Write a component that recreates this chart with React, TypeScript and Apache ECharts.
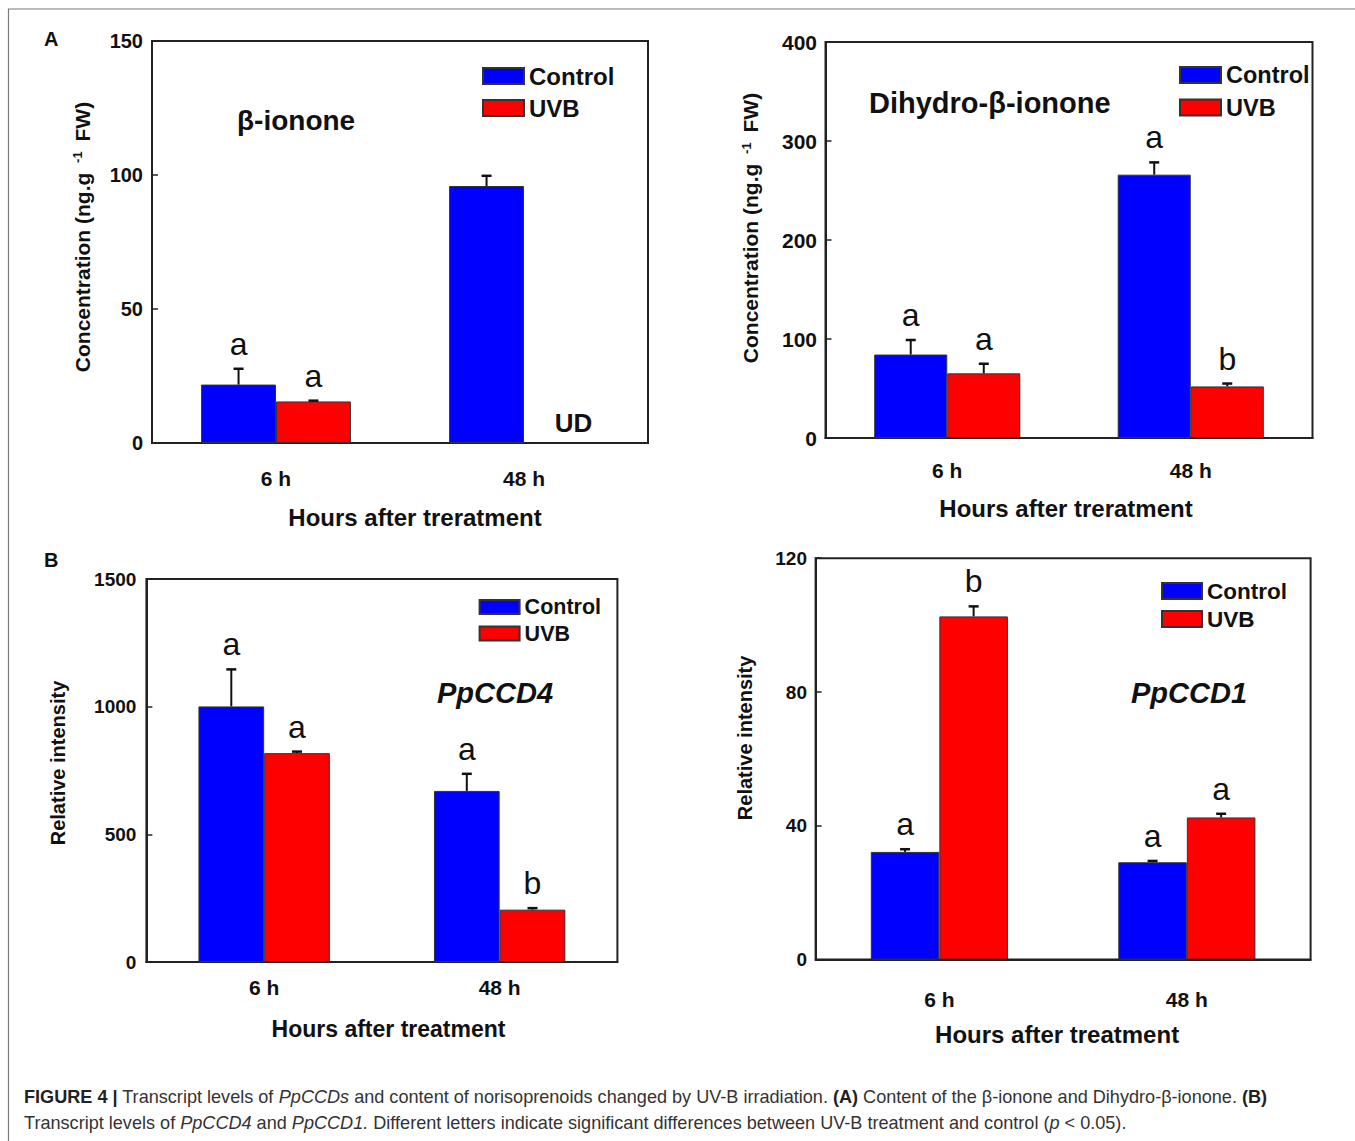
import React, { useEffect, useRef } from 'react';
import * as echarts from 'echarts';

// ---------------- data ----------------
const categories = ['6 h', '48 h'];
const seriesNames = ['Control', 'UVB'];

// Panel A (left): beta-ionone, ng/g FW
const iononeControl = [21.8, 95.9];
const iononeControlErr = [5.9, 3.8];
const iononeUVB: (number | null)[] = [15.5, null]; // 48 h UVB: UD (undetected)
const iononeUVBErr = [0.3, 0];
const iononeLetters = [['a', ''], ['a', 'UD']];

// Panel A (right): dihydro-beta-ionone, ng/g FW
const dihydroControl = [84.3, 266];
const dihydroControlErr = [14.7, 12.4];
const dihydroUVB = [65.3, 52.1];
const dihydroUVBErr = [9.7, 2.9];
const dihydroLetters = [['a', 'a'], ['a', 'b']];

// Panel B (left): PpCCD4 relative intensity
const ccd4Control = [1001, 670];
const ccd4ControlErr = [145, 67];
const ccd4UVB = [818, 205];
const ccd4UVBErr = [6, 6];
const ccd4Letters = [['a', 'a'], ['a', 'b']];

// Panel B (right): PpCCD1 relative intensity
const ccd1Control = [32.2, 29.1];
const ccd1ControlErr = [0.8, 0.4];
const ccd1UVB = [102.6, 42.5];
const ccd1UVBErr = [3.0, 1.1];
const ccd1Letters = [['a', 'a'], ['b', 'a']];

// axis ranges
const iononeAxis = { max: 150, interval: 50 };
const dihydroAxis = { max: 400, interval: 100 };
const ccd4Axis = { max: 1500, interval: 500 };
const ccd1Axis = { max: 120, interval: 40 };

// ---------------- layout ----------------
const FONT = "'Liberation Sans', Arial, Helvetica, sans-serif";
const INK = '#111';

const panels = [
  {
    control: iononeControl, controlErr: iononeControlErr, uvb: iononeUVB, uvbErr: iononeUVBErr,
    letters: iononeLetters, axis: iononeAxis,
    grid: { left: 152, top: 41, width: 496, height: 402 },
    frac: 0.302,
    yName: '{n|Concentration (ng.g }{s|-1}{n| FW)}', yNameSize: 21, yNameGap: 59, yShift: 5,
    tickSize: 20, tickMargin: 9,
    xLabelMargin: 24.5, xName: 'Hours after treratment', xNameSize: 24, xNameGap: 62, xShift: 15,
    legend: { left: 482, top: 64, itemWidth: 41, itemHeight: 16, itemGap: 8, fontSize: 24 },
  },
  {
    control: dihydroControl, controlErr: dihydroControlErr, uvb: dihydroUVB, uvbErr: dihydroUVBErr,
    letters: dihydroLetters, axis: dihydroAxis,
    grid: { left: 825.5, top: 42, width: 487, height: 396 },
    frac: 0.3,
    yName: '{n|Concentration (ng.g }{s|-1}{n| FW)}', yNameSize: 21, yNameGap: 64, yShift: 12,
    tickSize: 21, tickMargin: 8.5,
    xLabelMargin: 22, xName: 'Hours after treratment', xNameSize: 24, xNameGap: 58.6, xShift: -3,
    legend: { left: 1179, top: 63, itemWidth: 41, itemHeight: 16, itemGap: 8.5, fontSize: 23.5 },
  },
  {
    control: ccd4Control, controlErr: ccd4ControlErr, uvb: ccd4UVB, uvbErr: ccd4UVBErr,
    letters: ccd4Letters, axis: ccd4Axis,
    grid: { left: 146.4, top: 579, width: 471, height: 383 },
    frac: 0.279,
    yName: 'Relative intensity', yNameSize: 20, yNameGap: 78, yShift: 7.5,
    tickSize: 19, tickMargin: 10,
    xLabelMargin: 15, xName: 'Hours after treatment', xNameSize: 23, xNameGap: 55.5, xShift: 6.6,
    legend: { left: 478.6, top: 596, itemWidth: 40, itemHeight: 14, itemGap: 4.5, fontSize: 21.5 },
  },
  {
    control: ccd1Control, controlErr: ccd1ControlErr, uvb: ccd1UVB, uvbErr: ccd1UVBErr,
    letters: ccd1Letters, axis: ccd1Axis,
    grid: { left: 815.6, top: 558.2, width: 495, height: 401.4 },
    frac: 0.277,
    yName: 'Relative intensity', yNameSize: 20, yNameGap: 61, yShift: 21,
    tickSize: 19, tickMargin: 8.6,
    xLabelMargin: 29, xName: 'Hours after treatment', xNameSize: 24, xNameGap: 62.4, xShift: -6,
    legend: { left: 1161, top: 579.5, itemWidth: 40, itemHeight: 16, itemGap: 5, fontSize: 22.5 },
  },
];

const titles = [
  { text: 'β-ionone', x: 237, y: 120.5, italic: false, size: 28 },
  { text: 'Dihydro-β-ionone', x: 869, y: 103, italic: false, size: 29 },
  { text: 'PpCCD4', x: 437, y: 693, italic: true, size: 29 },
  { text: 'PpCCD1', x: 1131, y: 692.6, italic: true, size: 29 },
];

const captionLine1 =
  '{b|FIGURE 4 |}{n| Transcript levels of }{i|PpCCDs}{n| and content of norisoprenoids changed by UV-B irradiation. }{b|(A)}{n| Content of the β-ionone and Dihydro-β-ionone. }{b|(B)}';
const captionLine2 =
  '{n|Transcript levels of }{i|PpCCD4}{n| and }{i|PpCCD1.}{n| Different letters indicate significant differences between UV-B treatment and control (}{i|p}{n| < 0.05).}';

function makeRenderItem(letters: string[][], frac: number) {
  return (params: any, api: any) => {
    const cat = api.value(0);
    const s = api.value(1);
    const v = api.value(2);
    const top = api.value(3);
    const band = api.size([1, 0])[0];
    const c = api.coord([cat, v]);
    const t = api.coord([cat, top]);
    const x = c[0] + (s === 0 ? -0.5 : 0.5) * band * frac;
    const letter = letters[s][cat];
    const children: any[] = [];
    if (letter === 'UD') {
      children.push({
        type: 'text', x: x + 12, y: c[1] - 20,
        style: {
          text: 'UD', fill: INK, font: `bold 26px ${FONT}`,
          align: 'center', verticalAlign: 'middle', textAlign: 'center', textVerticalAlign: 'middle',
        },
      });
      return { type: 'group', children };
    }
    if (top > v) {
      children.push({
        type: 'line', shape: { x1: x, y1: c[1], x2: x, y2: t[1] },
        style: { stroke: INK, lineWidth: 2 },
      });
      children.push({
        type: 'line', shape: { x1: x - 5, y1: t[1], x2: x + 5, y2: t[1] },
        style: { stroke: INK, lineWidth: 2.5 },
      });
    }
    if (letter) {
      children.push({
        type: 'text', x, y: t[1] - 25,
        style: {
          text: letter, fill: INK, font: `32px ${FONT}`,
          align: 'center', verticalAlign: 'middle', textAlign: 'center', textVerticalAlign: 'middle',
        },
      });
    }
    return { type: 'group', children };
  };
}

function buildOption() {
  const grids: any[] = [];
  const xAxes: any[] = [];
  const yAxes: any[] = [];
  const series: any[] = [];
  const legends: any[] = [];

  panels.forEach((p, i) => {
    grids.push({
      ...p.grid, show: true, borderColor: '#222', borderWidth: 2,
      backgroundColor: 'transparent', containLabel: false,
    });
    xAxes.push({
      type: 'category', gridIndex: i, data: categories,
      axisLine: { show: true, lineStyle: { color: '#222', width: 2 } },
      axisTick: { show: false },
      axisLabel: { fontSize: 21, fontWeight: 'bold', fontFamily: FONT, color: INK, margin: p.xLabelMargin },
      name: p.xName, nameLocation: 'middle', nameGap: p.xNameGap,
      nameTextStyle: {
        fontSize: p.xNameSize, fontWeight: 'bold', fontFamily: FONT, color: INK,
        padding: p.xShift >= 0 ? [0, 0, 0, 2 * p.xShift] : [0, -2 * p.xShift, 0, 0],
      },
    });
    const nameStyle: any = {
      fontSize: p.yNameSize, fontWeight: 'bold', fontFamily: FONT, color: INK,
      padding: [0, 0, 0, 2 * p.yShift],
    };
    if (p.yName.indexOf('{') === 0) {
      nameStyle.rich = {
        n: { fontSize: p.yNameSize, fontWeight: 'bold', fontFamily: FONT, color: INK, lineHeight: 22 },
        s: { fontSize: 13, fontWeight: 'bold', fontFamily: FONT, color: INK, verticalAlign: 'top', lineHeight: 22, padding: [0, 4, 8, 4] },
      };
    }
    yAxes.push({
      type: 'value', gridIndex: i, min: 0, max: p.axis.max, interval: p.axis.interval,
      axisLine: { show: true, lineStyle: { color: '#222', width: 2 } },
      axisTick: { show: true, inside: true, length: 6, lineStyle: { color: '#222', width: 1.5 } },
      splitLine: { show: false },
      axisLabel: {
        fontSize: p.tickSize, fontWeight: 'bold', fontFamily: FONT, color: INK, margin: p.tickMargin,
        formatter: (v: number) => String(v),
      },
      name: p.yName, nameLocation: 'middle', nameGap: p.yNameGap, nameRotate: 90,
      nameTextStyle: nameStyle,
    });
    const barCommon = {
      type: 'bar', xAxisIndex: i, yAxisIndex: i,
      barWidth: `${p.frac * 100}%`, barGap: '0%',
    };
    series.push({
      ...barCommon, name: seriesNames[0], data: p.control,
      itemStyle: { color: '#0000ff', borderColor: '#333', borderWidth: 1 },
    });
    series.push({
      ...barCommon, name: seriesNames[1], data: p.uvb,
      itemStyle: { color: '#ff0000', borderColor: '#333', borderWidth: 1 },
    });
    const errData: number[][] = [];
    [p.control, p.uvb].forEach((vals: any[], s) => {
      const errs = s === 0 ? p.controlErr : p.uvbErr;
      vals.forEach((v: any, c: number) => {
        const val = v == null ? 0 : v;
        errData.push([c, s, val, val + errs[c]]);
      });
    });
    series.push({
      type: 'custom', xAxisIndex: i, yAxisIndex: i, data: errData,
      encode: { x: 0, y: 3 }, clip: false, z: 10, silent: true,
      renderItem: makeRenderItem(p.letters, p.frac),
    });
    legends.push({
      data: seriesNames, orient: 'vertical', left: p.legend.left, top: p.legend.top, padding: 0,
      itemWidth: p.legend.itemWidth, itemHeight: p.legend.itemHeight, itemGap: p.legend.itemGap,
      icon: 'rect', selectedMode: false,
      textStyle: { fontSize: p.legend.fontSize, fontWeight: 'bold', fontFamily: FONT, color: INK },
    });
  });

  const graphics: any[] = [
    { type: 'line', shape: { x1: 8, y1: 9, x2: 1355, y2: 9 }, style: { stroke: '#7a7a7a', lineWidth: 1.2 } },
    { type: 'line', shape: { x1: 8.5, y1: 9, x2: 8.5, y2: 1141 }, style: { stroke: '#7a7a7a', lineWidth: 1.2 } },
    {
      type: 'text', x: 44, y: 39,
      style: { text: 'A', fill: INK, font: `bold 20px ${FONT}`, verticalAlign: 'middle', textVerticalAlign: 'middle' },
    },
    {
      type: 'text', x: 44, y: 560,
      style: { text: 'B', fill: INK, font: `bold 20px ${FONT}`, verticalAlign: 'middle', textVerticalAlign: 'middle' },
    },
  ];
  titles.forEach((t) => {
    graphics.push({
      type: 'text', x: t.x, y: t.y,
      style: {
        text: t.text, fill: INK,
        font: `${t.italic ? 'italic ' : ''}bold ${t.size}px ${FONT}`,
        verticalAlign: 'middle', textVerticalAlign: 'middle',
      },
    });
  });
  const capSize = 18.1;
  const capRich = {
    b: { fontSize: capSize, fontWeight: 'bold', fontFamily: FONT, fill: '#222', color: '#222' },
    n: { fontSize: capSize, fontFamily: FONT, fill: '#333', color: '#333' },
    i: { fontSize: capSize, fontStyle: 'italic', fontFamily: FONT, fill: '#333', color: '#333' },
  };
  [captionLine1, captionLine2].forEach((line, k) => {
    graphics.push({
      type: 'text', x: 24, y: k === 0 ? 1097 : 1123,
      style: {
        text: line, rich: capRich, font: `${capSize}px ${FONT}`, fill: '#333',
        verticalAlign: 'middle', textVerticalAlign: 'middle',
      },
    });
  });

  return {
    animation: false,
    backgroundColor: '#ffffff',
    grid: grids,
    xAxis: xAxes,
    yAxis: yAxes,
    legend: legends,
    series,
    graphic: graphics,
  };
}

export default function App() {
  const ref = useRef<HTMLDivElement>(null);
  useEffect(() => {
    if (!ref.current) return;
    const chart = echarts.init(ref.current, undefined, { renderer: 'svg' });
    chart.setOption(buildOption() as any);
    return () => chart.dispose();
  }, []);
  return (
    <div
      ref={ref}
      style={{ position: 'absolute', left: 0, top: 0, width: 1355, height: 1141, background: '#fff' }}
    />
  );
}
